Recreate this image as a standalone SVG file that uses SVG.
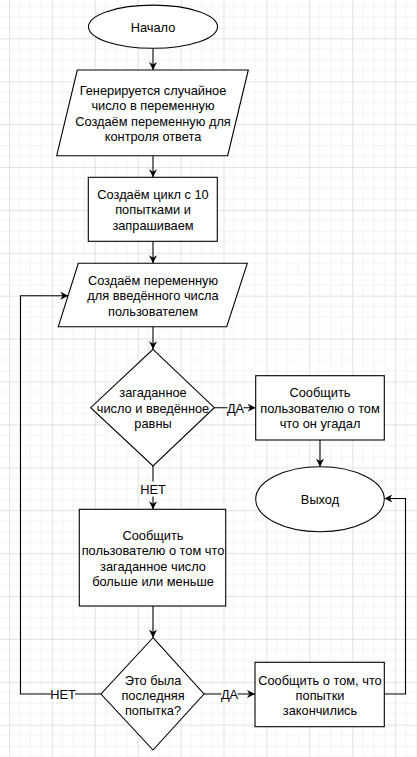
<svg xmlns="http://www.w3.org/2000/svg" width="417" height="757" viewBox="0 0 417 757">
<style>
.shape{fill:#ffffff;stroke:#000000;stroke-width:1.1}
.conn{fill:none;stroke:#000000;stroke-width:1.1}
text{font-family:"Liberation Sans",Arial,sans-serif;font-size:12.8px;fill:#000000;text-anchor:middle}
.lblbg{fill:#ffffff}
</style>
<defs>
<pattern id="grid" patternUnits="userSpaceOnUse" x="9" y="-4.6" width="42.9" height="42.9">
<path d="M10.7,0V42.9M21.45,0V42.9M32.2,0V42.9M0,10.7H42.9M0,21.45H42.9M0,32.2H42.9" stroke="#f3f3f3" stroke-width="1" fill="none"/>
<path d="M0.5,0V42.9M0,0.5H42.9" stroke="#e2e2e2" stroke-width="1" fill="none"/>
</pattern>
<marker id="arr" markerUnits="userSpaceOnUse" viewBox="0 0 10 10" refX="10" refY="5" markerWidth="9" markerHeight="8" orient="auto">
<path d="M0,0 L10,5 L0,10 L3,5 z" fill="#000000"/>
</marker>
</defs>
<rect x="0" y="0" width="417" height="757" fill="#ffffff"/>
<rect x="0" y="0" width="417" height="757" fill="url(#grid)"/>

<g id="connectors">
<path class="conn" d="M153,48.3V70" marker-end="url(#arr)"/>
<path class="conn" d="M153,155.7V177.3" marker-end="url(#arr)"/>
<path class="conn" d="M153,241.3V263.3" marker-end="url(#arr)"/>
<path class="conn" d="M153,326.7V349.3" marker-end="url(#arr)"/>
<path class="conn" d="M214.3,407.7H255.7" marker-end="url(#arr)"/>
<path class="conn" d="M320,440V466.7" marker-end="url(#arr)"/>
<path class="conn" d="M153,466V509.3" marker-end="url(#arr)"/>
<path class="conn" d="M153,606V637.7" marker-end="url(#arr)"/>
<path class="conn" d="M204,694H255" marker-end="url(#arr)"/>
<path class="conn" d="M101,694H20.5V295.7H68.3" marker-end="url(#arr)"/>
<path class="conn" d="M384.3,694H405.5V498.5H384.3" marker-end="url(#arr)"/>
<rect class="lblbg" x="227.5" y="400" width="16" height="15"/>
<text x="235.5" y="412.5">ДА</text>
<rect class="lblbg" x="141" y="481.5" width="24" height="15"/>
<text x="153" y="494">НЕТ</text>
<rect class="lblbg" x="221.5" y="686.5" width="16" height="15"/>
<text x="229.5" y="699">ДА</text>
<rect class="lblbg" x="51" y="686.5" width="24" height="15"/>
<text x="63" y="699">НЕТ</text>
</g>

<g id="start">
<ellipse class="shape" cx="153" cy="26.7" rx="64.5" ry="21.6"/>
<text x="153" y="31.5">Начало</text>
</g>

<g id="generate">
<polygon class="shape" points="77.3,70 248.3,70 227.7,155.7 56.7,155.7"/>
<text x="153" y="95">Генерируется случайное</text>
<text x="153" y="110.4">число в переменную</text>
<text x="153" y="125.8">Создаём переменную для</text>
<text x="153" y="141.2">контроля ответа</text>
</g>

<g id="loop">
<rect class="shape" x="88.3" y="177.3" width="129" height="64"/>
<text x="153" y="199">Создаём цикл с 10</text>
<text x="153" y="214.4">попытками и</text>
<text x="153" y="229.8">запрашиваем</text>
</g>

<g id="input">
<polygon class="shape" points="78.3,263.3 247.3,263.3 226.7,326.7 58.3,326.7"/>
<text x="153" y="284.7">Создаём переменную</text>
<text x="153" y="300.1">для введённого числа</text>
<text x="153" y="315.5">пользователем</text>
</g>

<g id="check-equal">
<polygon class="shape" points="153,349.3 214.3,407.7 153,466 90.7,407.7"/>
<text x="153" y="397.3">загаданное</text>
<text x="153" y="412.7">число и введённое</text>
<text x="153" y="428.1">равны</text>
</g>

<g id="guessed">
<rect class="shape" x="255.7" y="375.7" width="128.6" height="64.3"/>
<text x="320" y="397.3">Сообщить</text>
<text x="320" y="412.7">пользователю о том</text>
<text x="320" y="428.1">что он угадал</text>
</g>

<g id="exit">
<ellipse class="shape" cx="320" cy="499.2" rx="64.3" ry="32.5"/>
<text x="320" y="503.5">Выход</text>
</g>

<g id="hint">
<rect class="shape" x="79.3" y="509.3" width="146.4" height="96.7"/>
<text x="153" y="539.8">Сообщить</text>
<text x="153" y="555.2">пользователю о том что</text>
<text x="153" y="570.6">загаданное число</text>
<text x="153" y="586">больше или меньше</text>
</g>

<g id="check-last">
<polygon class="shape" points="153,637.7 204,694 153,750 101,694"/>
<text x="153" y="684.6">Это была</text>
<text x="153" y="700">последняя</text>
<text x="153" y="715.4">попытка?</text>
</g>

<g id="no-attempts">
<rect class="shape" x="255" y="662.3" width="129.3" height="64.4"/>
<text x="320" y="684.6">Сообщить о том, что</text>
<text x="320" y="700">попытки</text>
<text x="320" y="715.4">закончились</text>
</g>
</svg>
